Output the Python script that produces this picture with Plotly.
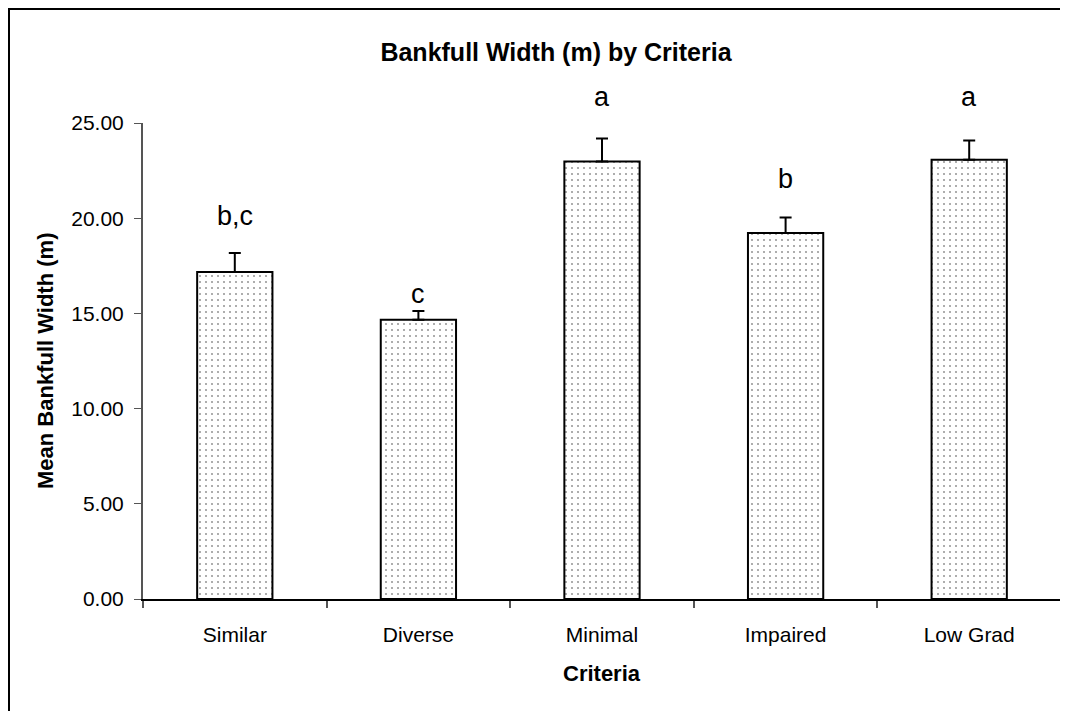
import plotly.graph_objects as go

categories = ["Similar", "Diverse", "Minimal", "Impaired", "Low Grad"]
means = [17.17, 14.67, 22.98, 19.22, 23.07]
errors = [1.00, 0.46, 1.20, 0.82, 1.01]
letters = ["b,c", "c", "a", "b", "a"]
letter_y = [19.55, 15.45, 25.8, 21.5, 25.8]

FONT = "Liberation Sans, Arial, sans-serif"

# page has an 8px body margin; the figure is sized to compensate
W, H = 1060, 703
L, R, T, B = 135, 7, 115, 112
PW, PH = W - L - R, H - T - B
YMAX = 25

fig = go.Figure()
fig.add_trace(go.Bar(
    x=categories,
    y=means,
    marker=dict(
        color="white",
        line=dict(color="black", width=2),
        pattern=dict(shape=".", fgcolor="#333333", bgcolor="white", size=6, solidity=0.1),
    ),
    error_y=dict(type="data", array=errors, arrayminus=[0]*len(errors), symmetric=False,
                 color="black", thickness=2, width=6),
    showlegend=False,
))

for c, t, ly in zip(categories, letters, letter_y):
    fig.add_annotation(x=c, xref="x", y=ly / YMAX, yref="paper", text=t, showarrow=False,
                       yanchor="bottom", yshift=-6,
                       font=dict(family=FONT, size=27, color="black"))

# axis titles
fig.add_annotation(text="<b>Mean Bankfull Width (m)</b>", xref="paper", yref="paper",
                   x=(37 - L) / PW, y=0.5, textangle=-90, showarrow=False,
                   xanchor="center", yanchor="middle", font=dict(family=FONT, size=22, color="black"))
fig.add_annotation(text="<b>Criteria</b>", xref="paper", yref="paper",
                   x=0.5, y=-(665 - (H - B)) / PH, showarrow=False,
                   xanchor="center", yanchor="middle", font=dict(family=FONT, size=22, color="black"))

# outer chart border
fig.add_shape(type="rect", xref="paper", yref="paper",
              x0=(1 - L) / PW, x1=1.05, y0=-0.4, y1=1 + (T - 1) / PH,
              line=dict(color="black", width=2), fillcolor="rgba(0,0,0,0)", layer="below")

fig.update_layout(
    width=W, height=H,
    margin=dict(l=L, r=R, t=T, b=B, autoexpand=False),
    paper_bgcolor="white", plot_bgcolor="white",
    bargap=0.59,
    title=dict(text="<b>Bankfull Width (m) by Criteria</b>", x=(548 - L) / PW, xref="paper",
               xanchor="center", y=1 - 44 / H,
               yanchor="middle", font=dict(family=FONT, size=25, color="black")),
    font=dict(family=FONT, color="black"),
    xaxis=dict(
        showline=True, linecolor="black", linewidth=2,
        ticks="outside", tickson="boundaries", ticklen=7, tickcolor="#555", tickwidth=2,
        tickfont=dict(family=FONT, size=21), showgrid=False, ticklabelstandoff=16,
    ),
    yaxis=dict(
        range=[0, YMAX], dtick=5, tickformat=".2f",
        showline=True, linecolor="#555", linewidth=2,
        ticks="outside", ticklen=7, tickcolor="#555", tickwidth=1,
        tickfont=dict(family=FONT, size=21), showgrid=False, zeroline=False,
        ticklabelstandoff=6,
    ),
)

fig.write_html("out.html")
